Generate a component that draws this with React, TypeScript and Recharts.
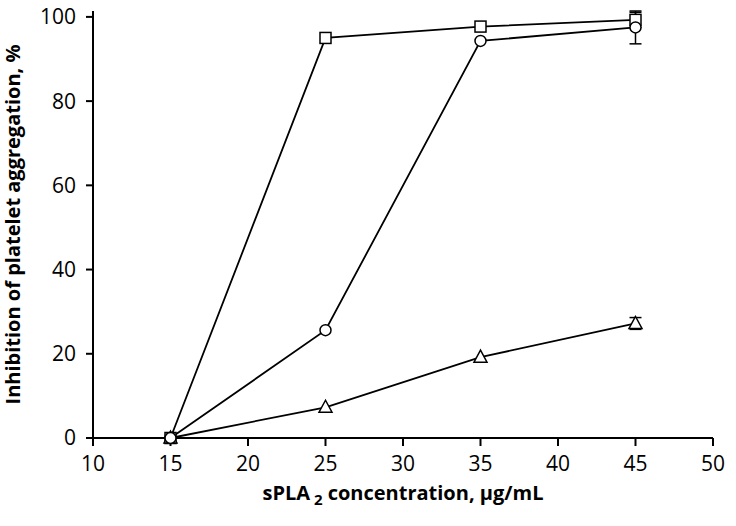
import React from 'react';
import {
  LineChart,
  Line,
  XAxis,
  YAxis,
  ErrorBar,
} from 'recharts';

// sPLA2 concentration, µg/mL
const concentrations = [15, 25, 35, 45];

// inhibition of platelet aggregation, %
const squareValues = [0, 95, 97.7, 99.3];
const squareErrors = [0, 0, 0, 1.8];

const circleValues = [0, 25.6, 94.3, 97.5];
const circleErrors = [0, 0, 0, 3.9];

const triangleValues = [0, 7.3, 19.2, 27.2];
const triangleErrors = [0, 0, 0, 1.4];

const xTicks = [10, 15, 20, 25, 30, 35, 40, 45, 50];
const yTicks = [0, 20, 40, 60, 80, 100];

const data = concentrations.map((c, i) => ({
  conc: c,
  square: squareValues[i],
  squareErr: squareErrors[i],
  circle: circleValues[i],
  circleErr: circleErrors[i],
  triangle: triangleValues[i],
  triangleErr: triangleErrors[i],
}));

const FONT = '"Open Sans", "Noto Sans", sans-serif';

const SquareDot = (props: any) => {
  const { cx, cy, index } = props;
  if (cx == null || cy == null) return <g key={`sq-${index}`} />;
  return (
    <rect key={`sq-${index}`} x={cx - 5.5} y={cy - 5.5} width={11} height={11}
      fill="#fff" stroke="#000" strokeWidth={1.5} />
  );
};

const TriangleDot = (props: any) => {
  const { cx, cy, index } = props;
  if (cx == null || cy == null) return <g key={`tr-${index}`} />;
  const pts = `${cx},${cy - 7} ${cx - 6.5},${cy + 5} ${cx + 6.5},${cy + 5}`;
  return (
    <polygon key={`tr-${index}`} points={pts} fill="#fff" stroke="#000" strokeWidth={1.5} />
  );
};

const XLabel = (props: any) => {
  const vb = props.viewBox || {};
  const cx = vb.x + vb.width / 2;
  return (
    <text x={cx} y={500} textAnchor="middle" fontFamily={FONT} fontWeight="bold"
      fontSize={20} fill="#000">
      <tspan>sPLA</tspan>
      <tspan dx={4} dy={5} fontSize={15}>2</tspan>
      <tspan dx={5} dy={-5}>concentration, µg/mL</tspan>
    </text>
  );
};

export default function App() {
  return (
    <div style={{ position: 'absolute', left: 0, top: 0, background: '#fff' }}>
      <LineChart width={736} height={526} data={data}
        margin={{ top: 11, right: 23, bottom: 0, left: 0 }}>
        <XAxis
          dataKey="conc"
          type="number"
          domain={[10, 50]}
          ticks={xTicks}
          height={88}
          stroke="#000"
          tickSize={8}
          tickMargin={10}
          axisLine={{ stroke: '#000', strokeWidth: 2 }}
          tickLine={{ stroke: '#000', strokeWidth: 2 }}
          tick={{ fill: '#000', fontSize: 21, fontFamily: FONT }}
          label={<XLabel />}
        />
        <YAxis
          type="number"
          domain={[0, 100]}
          ticks={yTicks}
          width={93}
          stroke="#000"
          tickSize={7}
          axisLine={{ stroke: '#000', strokeWidth: 2 }}
          tickLine={{ stroke: '#000', strokeWidth: 2 }}
          tick={{ fill: '#000', fontSize: 21, fontFamily: FONT, dx: -8 }}
          label={{
            value: 'Inhibition of platelet aggregation, %',
            angle: -90,
            position: 'insideLeft',
            offset: 13,
            style: { textAnchor: 'middle', fontWeight: 'bold', fontSize: 20, fontFamily: FONT, fill: '#000' },
          }}
        />
        <Line dataKey="square" stroke="#000" strokeWidth={1.8} dot={SquareDot}
          isAnimationActive={false}>
          <ErrorBar dataKey="squareErr" width={6} stroke="#000" strokeWidth={1.5} />
        </Line>
        <Line dataKey="triangle" stroke="#000" strokeWidth={1.8} dot={TriangleDot}
          isAnimationActive={false}>
          <ErrorBar dataKey="triangleErr" width={6} stroke="#000" strokeWidth={1.5} />
        </Line>
        <Line dataKey="circle" stroke="#000" strokeWidth={1.8}
          dot={{ r: 5.5, fill: '#fff', stroke: '#000', strokeWidth: 1.5 }}
          isAnimationActive={false}>
          <ErrorBar dataKey="circleErr" width={6} stroke="#000" strokeWidth={1.5} />
        </Line>
      </LineChart>
    </div>
  );
}
